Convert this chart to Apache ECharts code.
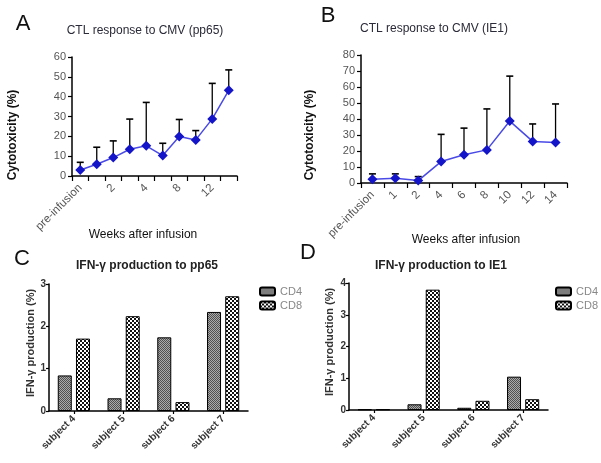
<!DOCTYPE html>
<html><head><meta charset="utf-8">
<script src="https://cdn.jsdelivr.net/npm/echarts@6/dist/echarts.min.js"></script>
<style>html,body{margin:0;padding:0;background:#fff}#c{width:601px;height:463px}</style>
</head><body><div id="c"></div>
<script>
// ---- data ----
const weeksA = ['pre-infusion','1','2','3','4','6','8','10','12','14'];
const meanA  = [3.0, 5.9, 9.3, 13.5, 15.2, 10.3, 19.9, 18.2, 28.8, 43.2];
const upperA = [6.9, 14.5, 17.7, 28.7, 37.1, 16.5, 28.5, 22.9, 46.7, 53.5];
const weeksB = ['pre-infusion','1','2','4','6','8','10','12','14'];
const meanB  = [2.3, 2.9, 1.5, 13.4, 17.6, 20.7, 38.7, 26.0, 25.3];
const upperB = [5.7, 5.7, 4.0, 30.4, 34.3, 46.3, 66.8, 36.9, 49.4];
const subjects = ['subject 4','subject 5','subject 6','subject 7'];
const cd4C = [0.84, 0.30, 1.74, 2.34];
const cd8C = [1.71, 2.24, 0.21, 2.71];
const cd4D = [0.02, 0.18, 0.07, 1.05];
const cd8D = [0.02, 3.79, 0.29, 0.34];
const ticksA = [0, 60, 10];
const ticksB = [0, 80, 10];
const ticksC = [0, 3, 1];
const ticksD = [0, 4, 1];

// ---- patterns ----
function makePattern(kind){
  const cv = document.createElement('canvas');
  if (kind === 'check') {
    cv.width = 4; cv.height = 4;
    const g = cv.getContext('2d');
    g.fillStyle = '#fff'; g.fillRect(0,0,4,4);
    g.fillStyle = '#111'; g.fillRect(0,0,2,2); g.fillRect(2,2,2,2);
  } else {
    cv.width = 2; cv.height = 2;
    const g = cv.getContext('2d');
    g.fillStyle = '#aaaaaa'; g.fillRect(0,0,2,2);
    g.fillStyle = '#505050'; g.fillRect(0,0,1,1); g.fillRect(1,1,1,1);
  }
  return {image: cv, repeat: 'repeat'};
}
const patCD4 = makePattern('fine');
const patCD8 = makePattern('check');

const FONT = 'Liberation Sans, Arial, sans-serif';

function errRender(params, api){
  const x = api.value(0), y0 = api.value(1), y1 = api.value(2);
  const p0 = api.coord([x, y0]), p1 = api.coord([x, y1]);
  const hw = 3.5;
  return {type:'group', children:[
    {type:'line', shape:{x1:p0[0], y1:p0[1], x2:p1[0], y2:p1[1]}, style:{stroke:'#000', lineWidth:1.3}},
    {type:'line', shape:{x1:p1[0]-hw, y1:p1[1], x2:p1[0]+hw, y2:p1[1]}, style:{stroke:'#000', lineWidth:1.6}}
  ]};
}

function catAxis(gi, data, labelInterval, bar){
  return {
    type:'category', gridIndex:gi, data:data, boundaryGap:true,
    axisLine:{lineStyle:{color:'#000', width:1.5}},
    axisTick:{show:true, interval:0, length:bar?3:5, alignWithLabel:!!bar, lineStyle:{color:'#000', width:1.2}},
    axisLabel:{interval:labelInterval, rotate:45, margin:bar?6:10,
      fontFamily:FONT, fontSize:bar?10:11.5, fontWeight:bar?'bold':'normal', color:bar?'#333':'#555'}
  };
}
function valAxis(gi, t, bar){
  return {
    type:'value', gridIndex:gi, min:t[0], max:t[1], interval:t[2],
    splitLine:{show:false},
    axisLine:{show:true, lineStyle:{color:'#000', width:1.5}},
    axisTick:{show:true, length:bar?3:4, lineStyle:{color:'#000', width:1.2}},
    axisLabel:{fontFamily:FONT, fontSize:bar?10:11, fontWeight:bar?'bold':'normal', color:bar?'#333':'#555', margin:bar?3:6}
  };
}

function txt(x, y, text, font, color, rot){
  return {type:'text', x:x, y:y, rotation:rot||0,
    style:{text:text, font:font, fill:color||'#222', textAlign:'center', textVerticalAlign:'middle'}};
}

const legendBase = {orient:'vertical', padding:0, itemWidth:15, itemHeight:8, itemGap:3, data:['CD4','CD8'],
  textStyle:{fontFamily:FONT, fontSize:11, color:'#888'}};

const chart = echarts.init(document.getElementById('c'), null, {renderer:'canvas'});
const option = {
  backgroundColor:'#fff',
  animation:false,
  grid:[
    {left:72, right:364, top:57, bottom:287},
    {left:361, right:34, top:55, bottom:280},
    {left:49, right:353, top:284, bottom:52},
    {left:349, right:53, top:283, bottom:53}
  ],
  xAxis:[
    catAxis(0, weeksA, 1, false),
    catAxis(1, weeksB, 0, false),
    catAxis(2, subjects, 0, true),
    catAxis(3, subjects, 0, true)
  ],
  yAxis:[
    valAxis(0, ticksA, false),
    valAxis(1, ticksB, false),
    valAxis(2, ticksC, true),
    valAxis(3, ticksD, true)
  ],
  legend:[
    Object.assign({left:259, top:286}, legendBase),
    Object.assign({left:555, top:286}, legendBase)
  ],
  graphic:[
    txt(23, 24, 'A', '22px '+FONT, '#111'),
    txt(328, 16, 'B', '22px '+FONT, '#111'),
    txt(22, 259, 'C', '22px '+FONT, '#111'),
    txt(308, 253, 'D', '22px '+FONT, '#111'),
    txt(145, 31, 'CTL response to CMV (pp65)', '12px '+FONT, '#2a2a38'),
    txt(434, 29, 'CTL response to CMV (IE1)', '12px '+FONT, '#2a2a38'),
    txt(147, 266, 'IFN-γ production to pp65', 'bold 12px '+FONT, '#222'),
    txt(441, 266, 'IFN-γ production to IE1', 'bold 12px '+FONT, '#222'),
    txt(143, 235, 'Weeks after infusion', '12px '+FONT, '#111'),
    txt(466, 240, 'Weeks after infusion', '12px '+FONT, '#111'),
    txt(13, 135, 'Cytotoxicity (%)', 'bold 12px '+FONT, '#111', Math.PI/2),
    txt(310, 135, 'Cytotoxicity (%)', 'bold 12px '+FONT, '#111', Math.PI/2),
    txt(31, 343, 'IFN-γ production (%)', 'bold 11px '+FONT, '#333', Math.PI/2),
    txt(330, 342, 'IFN-γ production (%)', 'bold 11px '+FONT, '#333', Math.PI/2)
  ],
  series:[
    {type:'custom', xAxisIndex:0, yAxisIndex:0, renderItem:errRender, z:1,
     data: weeksA.map((w,i)=>[i, meanA[i], upperA[i]])},
    {type:'line', xAxisIndex:0, yAxisIndex:0, data:meanA, z:3,
     symbol:'diamond', symbolSize:10, showAllSymbol:true,
     itemStyle:{color:'#1414c8'}, lineStyle:{color:'#4a4ae6', width:1.5}},
    {type:'custom', xAxisIndex:1, yAxisIndex:1, renderItem:errRender, z:1,
     data: weeksB.map((w,i)=>[i, meanB[i], upperB[i]])},
    {type:'line', xAxisIndex:1, yAxisIndex:1, data:meanB, z:3,
     symbol:'diamond', symbolSize:10, showAllSymbol:true,
     itemStyle:{color:'#1414c8'}, lineStyle:{color:'#4a4ae6', width:1.5}},
    {name:'CD4', type:'bar', xAxisIndex:2, yAxisIndex:2, data:cd4C, barWidth:14, barGap:'30%',
     itemStyle:{color:patCD4, borderColor:'#000', borderWidth:1}},
    {name:'CD8', type:'bar', xAxisIndex:2, yAxisIndex:2, data:cd8C, barWidth:14, barGap:'30%',
     itemStyle:{color:patCD8, borderColor:'#000', borderWidth:1}},
    {name:'CD4', type:'bar', xAxisIndex:3, yAxisIndex:3, data:cd4D, barWidth:14, barGap:'30%',
     itemStyle:{color:patCD4, borderColor:'#000', borderWidth:1}},
    {name:'CD8', type:'bar', xAxisIndex:3, yAxisIndex:3, data:cd8D, barWidth:14, barGap:'30%',
     itemStyle:{color:patCD8, borderColor:'#000', borderWidth:1}}
  ]
};
chart.setOption(option);
</script>
</body></html>
